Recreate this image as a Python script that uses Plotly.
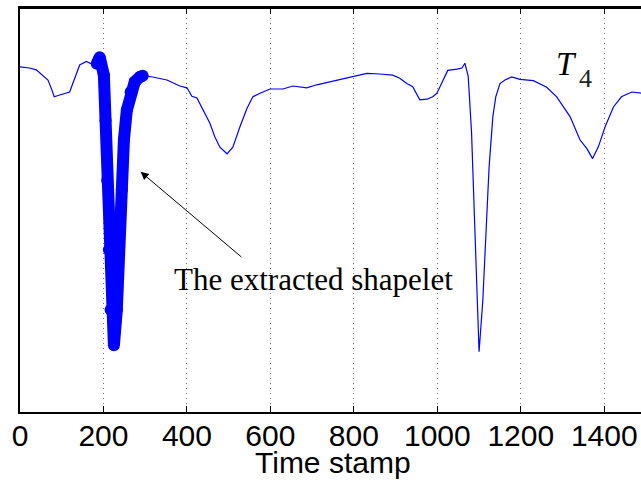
import plotly.graph_objects as go

# Time series T4
time_stamp = [0, 23, 39, 55, 67, 75, 82, 95, 119, 127, 143, 159, 171, 184, 191, 201, 205, 209, 213, 217,
              225, 232, 237, 244, 249, 256, 265, 275, 287, 294, 318, 352, 383, 400, 412, 424, 438, 455,
              467, 479, 496, 510, 527, 544, 558, 575, 599, 630, 654, 687, 711, 742, 766, 798, 831, 862,
              893, 910, 927, 941, 958, 975, 989, 999, 1013, 1025, 1047, 1059, 1066, 1074, 1082, 1090,
              1098, 1100, 1109, 1117, 1124, 1133, 1140, 1150, 1162, 1178, 1198, 1230, 1262, 1286, 1318,
              1342, 1358, 1372, 1386, 1402, 1422, 1441, 1466, 1488]
value = [0.22, 0.20, 0.17, 0.07, 0.00, -0.14, -0.28, -0.25, -0.20, -0.05, 0.25, 0.31, 0.27, 0.27, 0.38,
         0.08, -0.67, -1.67, -2.83, -3.83, -4.42, -3.83, -2.83, -1.83, -1.00, -0.50, -0.20, -0.03, 0.05,
         0.07, 0.05, 0.00, -0.10, -0.13, -0.27, -0.30, -0.50, -0.72, -0.95, -1.12, -1.23, -1.12, -0.78,
         -0.47, -0.28, -0.22, -0.15, -0.15, -0.10, -0.13, -0.08, -0.03, 0.00, 0.06, 0.11, 0.10, 0.08,
         0.03, -0.06, -0.11, -0.33, -0.32, -0.28, -0.22, -0.03, 0.16, 0.18, 0.20, 0.28, 0.06, -0.88,
         -2.55, -4.28, -4.53, -3.67, -2.55, -1.45, -0.61, -0.28, -0.06, 0.00, 0.05, 0.01, -0.01, -0.12,
         -0.28, -0.61, -1.00, -1.14, -1.31, -1.11, -0.78, -0.45, -0.28, -0.20, -0.22]

# Extracted shapelet span
shapelet_start = 184
shapelet_end = 294

x_ticks = [0, 200, 400, 600, 800, 1000, 1200, 1400]
x_title = "Time stamp"
annotation_text = "The extracted shapelet"
series_label = "T"
series_index = "4"

sx = [t for t in time_stamp if shapelet_start <= t <= shapelet_end]
sy = [v for t, v in zip(time_stamp, value) if shapelet_start <= t <= shapelet_end]

fig = go.Figure()
fig.add_trace(go.Scatter(x=time_stamp, y=value, mode="lines",
                         line=dict(color="#0000ff", width=1.2), hoverinfo="skip"))
# thick shapelet: line plus round markers at the vertices to get round joins
fig.add_trace(go.Scatter(x=sx, y=sy, mode="lines+markers",
                         line=dict(color="#0000ff", width=12),
                         marker=dict(color="#0000ff", size=12, line=dict(width=0)),
                         hoverinfo="skip"))

fig.update_layout(
    width=641, height=482,
    margin=dict(l=20, r=0, t=8, b=70, pad=0, autoexpand=False),
    paper_bgcolor="white", plot_bgcolor="white",
    showlegend=False,
)
fig.update_xaxes(
    range=[0, 1488], tickvals=x_ticks, ticks="inside", ticklen=6, tickcolor="black", tickwidth=1,
    showline=True, linecolor="black", linewidth=2, mirror="ticks",
    showgrid=True, gridcolor="#777777", griddash="1px,4px", gridwidth=1,
    tickfont=dict(family="Liberation Sans, Arial, sans-serif", size=30, color="black"),
    zeroline=False, ticklabelstandoff=-4, automargin=False,
)
fig.update_yaxes(
    range=[-5.533, 1.2], showticklabels=False, showline=True, linecolor="black", linewidth=2,
    showgrid=False, zeroline=False, ticks="", automargin=False,
)

# top frame line
fig.add_shape(type="line", xref="paper", yref="paper", x0=0, x1=1, y0=1, y1=1,
              line=dict(color="black", width=2), layer="above")

# x-axis title (centered on the full 0-1500 axis)
fig.add_annotation(text=x_title, xref="x", x=749, yref="paper", y=-0.126, yanchor="middle",
                   showarrow=False,
                   font=dict(family="Liberation Sans, Arial, sans-serif", size=30, color="black"))

# arrow + label
fig.add_annotation(x=289, y=-1.53, ax=534, ay=-2.97, axref="x", ayref="y", xref="x", yref="y",
                   text="", showarrow=True, arrowhead=2, arrowsize=1.6, arrowwidth=1,
                   arrowcolor="black")
fig.add_annotation(text=annotation_text, x=704, y=-3.32, xref="x", yref="y", showarrow=False,
                   font=dict(family="Liberation Serif, Times New Roman, serif", size=31, color="black"))

# series label T_4
fig.add_annotation(text="<i>" + series_label + "</i>", x=1310, y=0.27, xref="x", yref="y",
                   showarrow=False,
                   font=dict(family="Liberation Serif, DejaVu Serif, serif", size=33, color="black"))
fig.add_annotation(text=series_index, x=1356, y=0.03, xref="x", yref="y", showarrow=False,
                   font=dict(family="Liberation Serif, DejaVu Serif, serif", size=26, color="#222222"))

fig.write_html("out.html", config={"displayModeBar": False},
               post_script="document.body.style.margin='0';")
